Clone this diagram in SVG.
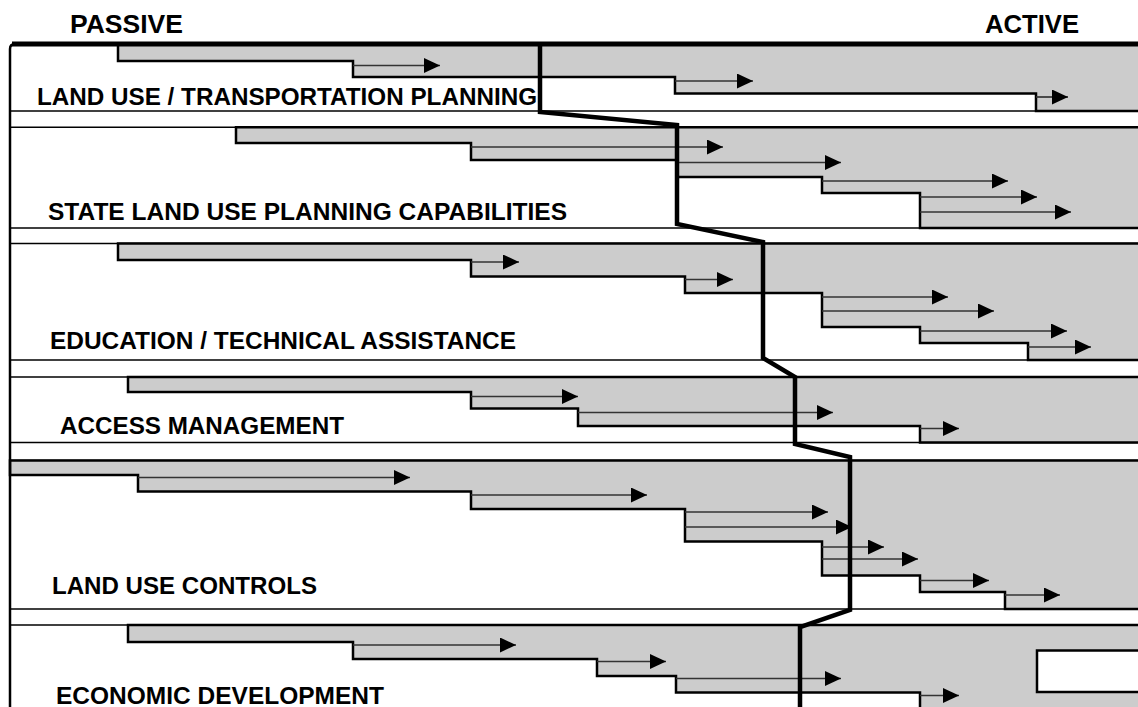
<svg xmlns="http://www.w3.org/2000/svg" width="1138" height="707" viewBox="0 0 1138 707">
<style>
.band{fill:#cccccc;stroke:#000;stroke-width:2.5;stroke-linejoin:miter}
.sep{stroke:#000;stroke-width:1.5}
.arr{stroke:#333;stroke-width:1.7;fill:none}
.lbl{font-family:"Liberation Sans",Arial,sans-serif;font-weight:bold;font-size:23.5px;fill:#000}
.hdr{font-family:"Liberation Sans",Arial,sans-serif;font-weight:bold;font-size:25.5px;fill:#000}
.zig{fill:none;stroke:#000;stroke-width:4.5;stroke-linejoin:miter}
.box{fill:#fff;stroke:#000;stroke-width:2.5}
</style>
<defs>
<marker id="ah" markerUnits="userSpaceOnUse" markerWidth="17" markerHeight="16" refX="16" refY="7.5" orient="auto">
<path d="M0,0 L16,7.5 L0,15 Z" fill="#000"/>
</marker>
</defs>
<rect width="1138" height="707" fill="#fff"/>
<text class="hdr" x="70" y="33" textLength="113" lengthAdjust="spacingAndGlyphs">PASSIVE</text>
<text class="hdr" x="985" y="33" textLength="94" lengthAdjust="spacingAndGlyphs">ACTIVE</text>
<g id="separators">
<line class="sep" x1="10" y1="111" x2="1138" y2="111"/>
<line class="sep" x1="10" y1="127.3" x2="1138" y2="127.3"/>
<line class="sep" x1="10" y1="228" x2="1138" y2="228"/>
<line class="sep" x1="10" y1="243.5" x2="1138" y2="243.5"/>
<line class="sep" x1="10" y1="360" x2="1138" y2="360"/>
<line class="sep" x1="10" y1="377" x2="1138" y2="377"/>
<line class="sep" x1="10" y1="442.5" x2="1138" y2="442.5"/>
<line class="sep" x1="10" y1="460.5" x2="1138" y2="460.5"/>
<line class="sep" x1="10" y1="609" x2="1138" y2="609"/>
<line class="sep" x1="10" y1="625" x2="1138" y2="625"/>
</g>
<g id="band-land-use-transportation">
<polygon class="band" points="118,44 1145,44 1145,111 1036,111 1036,93.5 675,93.5 675,77 353,77 353,61 118,61"/>
<text class="lbl" x="37" y="105" textLength="500" lengthAdjust="spacingAndGlyphs">LAND USE / TRANSPORTATION PLANNING</text>
</g>
<g id="band-state-land-use">
<polygon class="band" points="236,127.3 1145,127.3 1145,228 920,228 920,193 822,193 822,177 677,177 677,160 471,160 471,143 236,143"/>
<text class="lbl" x="48" y="220" textLength="519" lengthAdjust="spacingAndGlyphs">STATE LAND USE PLANNING CAPABILITIES</text>
</g>
<g id="band-education">
<polygon class="band" points="118,243.5 1145,243.5 1145,360 1028,360 1028,343 920,343 920,327 822,327 822,293 685,293 685,276.5 471,276.5 471,260 118,260"/>
<text class="lbl" x="50" y="349" textLength="466" lengthAdjust="spacingAndGlyphs">EDUCATION / TECHNICAL ASSISTANCE</text>
</g>
<g id="band-access-management">
<polygon class="band" points="128,377 1145,377 1145,442.5 920,442.5 920,426 578,426 578,408.5 471,408.5 471,392 128,392"/>
<text class="lbl" x="60" y="434" textLength="284" lengthAdjust="spacingAndGlyphs">ACCESS MANAGEMENT</text>
</g>
<g id="band-land-use-controls">
<polygon class="band" points="10,460.5 1145,460.5 1145,609 1005,609 1005,592 920,592 920,575.5 822,575.5 822,541.5 685,541.5 685,509 471,509 471,491.5 138,491.5 138,475 10,475"/>
<text class="lbl" x="52" y="594" textLength="265" lengthAdjust="spacingAndGlyphs">LAND USE CONTROLS</text>
</g>
<g id="band-economic-development">
<polygon class="band" points="128,625 1145,625 1145,715 920,715 920,692.5 676,692.5 676,676 597,676 597,659 353,659 353,642 128,642"/>
<rect class="box" x="1037" y="650.5" width="110" height="41.5"/>
<text class="lbl" x="56" y="704" textLength="328" lengthAdjust="spacingAndGlyphs">ECONOMIC DEVELOPMENT</text>
</g>
<g id="connectors">
<line class="arr" marker-end="url(#ah)" x1="353" y1="65.5" x2="440" y2="65.5"/>
<line class="arr" marker-end="url(#ah)" x1="675" y1="81" x2="753" y2="81"/>
<line class="arr" marker-end="url(#ah)" x1="1036" y1="97" x2="1068" y2="97"/>
<line class="arr" marker-end="url(#ah)" x1="471" y1="147" x2="723" y2="147"/>
<line class="arr" marker-end="url(#ah)" x1="677" y1="162.5" x2="841" y2="162.5"/>
<line class="arr" marker-end="url(#ah)" x1="822" y1="181" x2="1008" y2="181"/>
<line class="arr" marker-end="url(#ah)" x1="920" y1="197" x2="1037" y2="197"/>
<line class="arr" marker-end="url(#ah)" x1="920" y1="212" x2="1071" y2="212"/>
<line class="arr" marker-end="url(#ah)" x1="471" y1="262" x2="519" y2="262"/>
<line class="arr" marker-end="url(#ah)" x1="685" y1="279.5" x2="733" y2="279.5"/>
<line class="arr" marker-end="url(#ah)" x1="822" y1="297" x2="948" y2="297"/>
<line class="arr" marker-end="url(#ah)" x1="822" y1="311" x2="994" y2="311"/>
<line class="arr" marker-end="url(#ah)" x1="920" y1="331" x2="1067" y2="331"/>
<line class="arr" marker-end="url(#ah)" x1="1028" y1="347" x2="1091" y2="347"/>
<line class="arr" marker-end="url(#ah)" x1="471" y1="396.5" x2="578" y2="396.5"/>
<line class="arr" marker-end="url(#ah)" x1="578" y1="412.5" x2="833" y2="412.5"/>
<line class="arr" marker-end="url(#ah)" x1="920" y1="428.5" x2="959" y2="428.5"/>
<line class="arr" marker-end="url(#ah)" x1="138" y1="477.5" x2="410" y2="477.5"/>
<line class="arr" marker-end="url(#ah)" x1="471" y1="495" x2="647" y2="495"/>
<line class="arr" marker-end="url(#ah)" x1="685" y1="512" x2="828" y2="512"/>
<line class="arr" marker-end="url(#ah)" x1="685" y1="527" x2="852" y2="527"/>
<line class="arr" marker-end="url(#ah)" x1="822" y1="547" x2="884" y2="547"/>
<line class="arr" marker-end="url(#ah)" x1="822" y1="559" x2="918" y2="559"/>
<line class="arr" marker-end="url(#ah)" x1="920" y1="580.5" x2="989" y2="580.5"/>
<line class="arr" marker-end="url(#ah)" x1="1005" y1="595" x2="1060" y2="595"/>
<line class="arr" marker-end="url(#ah)" x1="353" y1="645" x2="516" y2="645"/>
<line class="arr" marker-end="url(#ah)" x1="597" y1="661.5" x2="666" y2="661.5"/>
<line class="arr" marker-end="url(#ah)" x1="676" y1="678.5" x2="841" y2="678.5"/>
<line class="arr" marker-end="url(#ah)" x1="920" y1="695.5" x2="959" y2="695.5"/>
<polyline class="zig" points="540,44 540,112 677,125 677,224 763,242 763,358 795,377 795,444 850,457 850,610 800,627 800,712"/>
</g>
<g id="frame">
<path d="M10,710 L10,49 Q10,44 15,44 L1145,44" fill="none" stroke="#000" stroke-width="2.5"/>
<line x1="12" y1="44" x2="1145" y2="44" stroke="#000" stroke-width="5"/>
</g>
</svg>
